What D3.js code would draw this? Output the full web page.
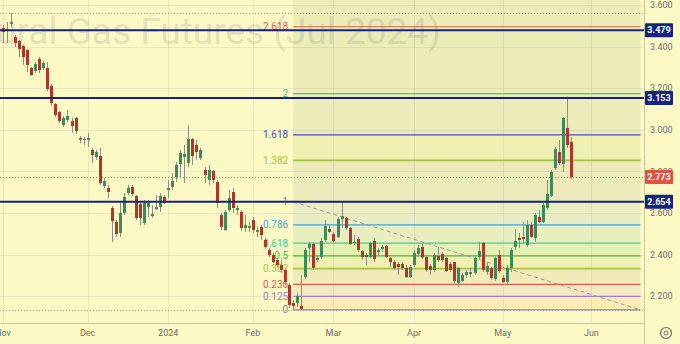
<!DOCTYPE html>
<html>
<head>
<meta charset="utf-8">
<script src="https://cdn.jsdelivr.net/npm/d3@7"></script>
<style>
  body { margin: 0; background: #fdf9c4; }
  svg { display: block; font-family: Roboto, "Liberation Sans", sans-serif; }
</style>
</head>
<body>
<svg id="chart" width="680" height="344"></svg>
<script>
// daily bars, Nov 2023 .. late May 2024 (bar index = trading day)
const opens = [3.489,3.475,3.509,3.446,3.427,3.403,3.384,3.297,3.283,3.340,3.297,3.297,3.211,3.124,3.086,3.023,3.047,3.042,3.057,2.960,
  2.951,2.951,2.903,2.869,2.874,2.730,2.720,2.624,2.557,2.504,2.600,2.696,2.725,2.682,2.643,2.552,2.629,2.585,2.619,2.629,
  2.677,2.711,2.725,2.773,2.835,2.869,2.840,2.956,2.927,2.864,2.807,2.759,2.802,2.749,2.590,2.518,2.614,2.701,2.614,2.605,
  2.528,2.528,2.566,2.509,2.533,2.470,2.422,2.398,2.374,2.350,2.326,2.254,2.167,2.167,2.153,2.292,2.432,2.451,2.374,2.388,
  2.470,2.523,2.499,2.485,2.571,2.576,2.528,2.456,2.475,2.417,2.398,2.388,2.465,2.412,2.427,2.441,2.384,2.364,2.355,2.355,
  2.336,2.292,2.350,2.403,2.437,2.388,2.345,2.326,2.393,2.403,2.384,2.355,2.364,2.263,2.273,2.302,2.307,2.312,2.388,2.456,
  2.316,2.336,2.283,2.398,2.288,2.268,2.336,2.437,2.480,2.485,2.446,2.542,2.480,2.581,2.557,2.624,2.682,2.816,2.893,2.835,
  3.009,2.941];
const highs = [3.504,3.518,3.562,3.456,3.432,3.408,3.388,3.302,3.326,3.350,3.331,3.326,3.220,3.129,3.090,3.066,3.095,3.057,3.061,2.970,
  2.965,2.985,2.912,2.903,2.912,2.768,2.735,2.634,2.566,2.648,2.696,2.735,2.735,2.686,2.653,2.662,2.662,2.638,2.686,2.696,
  2.686,2.759,2.792,2.845,2.903,2.927,3.023,2.960,2.951,2.912,2.821,2.831,2.807,2.759,2.600,2.614,2.711,2.720,2.638,2.614,
  2.590,2.557,2.581,2.533,2.542,2.480,2.432,2.408,2.384,2.374,2.336,2.263,2.182,2.215,2.302,2.432,2.461,2.461,2.393,2.480,
  2.566,2.542,2.509,2.581,2.654,2.581,2.533,2.494,2.485,2.422,2.408,2.461,2.480,2.432,2.446,2.446,2.388,2.374,2.364,2.364,
  2.350,2.350,2.422,2.446,2.456,2.398,2.355,2.408,2.437,2.412,2.388,2.364,2.364,2.340,2.312,2.326,2.336,2.388,2.461,2.461,
  2.360,2.340,2.388,2.422,2.302,2.350,2.432,2.523,2.504,2.557,2.566,2.557,2.600,2.614,2.648,2.759,2.807,2.917,2.951,3.061,
  3.160,2.965];
const lows = [3.417,3.417,3.494,3.398,3.350,3.312,3.278,3.259,3.273,3.273,3.287,3.186,3.114,3.061,3.033,3.013,3.037,2.985,2.980,2.936,
  2.927,2.917,2.840,2.855,2.735,2.720,2.672,2.461,2.485,2.485,2.590,2.686,2.682,2.566,2.542,2.542,2.581,2.576,2.614,2.605,
  2.643,2.672,2.711,2.749,2.773,2.744,2.821,2.831,2.855,2.855,2.744,2.735,2.744,2.624,2.518,2.513,2.605,2.600,2.590,2.513,
  2.509,2.509,2.504,2.485,2.470,2.427,2.388,2.360,2.340,2.312,2.254,2.143,2.134,2.148,2.134,2.283,2.364,2.326,2.364,2.379,
  2.461,2.504,2.461,2.480,2.528,2.518,2.446,2.446,2.412,2.374,2.350,2.384,2.364,2.398,2.412,2.384,2.340,2.326,2.302,2.326,
  2.288,2.288,2.340,2.388,2.379,2.316,2.302,2.316,2.364,2.364,2.316,2.316,2.263,2.244,2.268,2.288,2.292,2.302,2.374,2.316,
  2.302,2.278,2.273,2.312,2.263,2.259,2.316,2.422,2.432,2.451,2.437,2.480,2.461,2.552,2.552,2.614,2.677,2.807,2.831,2.797,
  2.912,2.763];
const closes = [3.470,3.485,3.518,3.417,3.388,3.350,3.312,3.263,3.316,3.287,3.321,3.196,3.129,3.071,3.042,3.057,3.066,3.018,2.994,2.953,
  2.956,2.960,2.879,2.893,2.744,2.754,2.701,2.561,2.499,2.600,2.677,2.720,2.691,2.576,2.576,2.648,2.648,2.595,2.629,2.682,
  2.648,2.720,2.754,2.831,2.888,2.884,2.956,2.874,2.893,2.903,2.783,2.807,2.759,2.648,2.533,2.605,2.672,2.624,2.624,2.528,
  2.542,2.537,2.518,2.518,2.494,2.437,2.398,2.364,2.350,2.326,2.268,2.158,2.153,2.201,2.138,2.422,2.451,2.336,2.384,2.465,
  2.537,2.509,2.465,2.571,2.585,2.528,2.451,2.461,2.422,2.388,2.388,2.456,2.379,2.422,2.437,2.388,2.364,2.336,2.340,2.336,
  2.292,2.340,2.408,2.432,2.386,2.326,2.326,2.398,2.374,2.374,2.321,2.326,2.273,2.336,2.302,2.316,2.316,2.384,2.417,2.326,
  2.345,2.288,2.384,2.321,2.268,2.336,2.422,2.465,2.470,2.475,2.542,2.485,2.590,2.557,2.638,2.691,2.797,2.908,2.840,3.057,
  2.927,2.773];

const monthLabels = ['Nov', 'Dec', '2024', 'Feb', 'Mar', 'Apr', 'May', 'Jun'];
const monthBars = [0, 21, 41, 62, 82, 102, 124, 146];
const priceTicks = [2.2, 2.4, 2.6, 2.8, 3.0, 3.2, 3.4, 3.6];

const levelLines = [3.479, 3.153, 2.654];
const lastPrice = 2.773;
const rangeHigh = 3.562, rangeLow = 2.134;

const fibLevels = [0, 0.125, 0.236, 0.382, 0.5, 0.618, 0.786, 1, 1.382, 1.618, 2, 2.618];
const fibLow = 2.134, fibHigh = 2.654;
const fibBars = [72, 158.2];
const trendBars = [72, 158.2], trendPrices = [2.654, 2.134];

const title = 'Natural Gas Futures (Jul 2024)';

const width = 680, height = 344;
const paneRight = 644, paneBottom = 323;

// line / label colour of each level
const fibColor = {
  0: '#8a8c95', 0.125: '#9a80cc', 0.236: '#df5a4c', 0.382: '#a3c53b', 0.5: '#3dbf3d',
  0.618: '#3ccf95', 0.786: '#45a3da', 1: '#8a8c95', 1.382: '#a3c53b', 1.618: '#4b4bbd',
  2: '#3dc9a0', 2.618: '#df5f4e'
};
// tint of the band that starts at each level
const bandColor = {
  0: '#f29a3a', 0.125: '#c08aa0', 0.236: '#a49a70', 0.382: '#a3c53b', 0.5: '#5cbf4a',
  0.618: '#6ab89a', 0.786: '#7aa0b8', 1: '#8a8c80', 1.382: '#95c050', 1.618: '#8a9a80',
  2: '#8aa060', 2.618: '#8aa060'
};

const x = d3.scaleLinear().domain([0, 146]).range([3, 591.4]);
const y = d3.scaleLinear().domain([2.071, 3.624]).range([paneBottom, 0]);
const fibPrice = r => fibLow + r * (fibHigh - fibLow);
const px = v => Math.round(v) + 0.5;

const svg = d3.select('#chart');

svg.append('rect')
    .attr('width', width).attr('height', height)
    .attr('fill', '#fdf9c4');

const pane = svg.append('g');

// fib background bands
const x0 = x(fibBars[0]), x1 = x(fibBars[1]);
const bandEdges = fibLevels.map(fibPrice).concat([y.invert(0)]);
pane.append('g')
  .selectAll('rect')
  .data(fibLevels)
  .join('rect')
    .attr('x', x0)
    .attr('width', x1 - x0)
    .attr('y', (d, i) => y(bandEdges[i + 1]))
    .attr('height', (d, i) => y(bandEdges[i]) - y(bandEdges[i + 1]))
    .attr('fill', d => bandColor[d])
    .attr('fill-opacity', 0.14);

// grid
pane.append('g')
  .selectAll('line')
  .data(priceTicks)
  .join('line')
    .attr('x1', 0).attr('x2', paneRight)
    .attr('y1', d => px(y(d))).attr('y2', d => px(y(d)))
    .attr('stroke', '#a0a0a0').attr('stroke-opacity', 0.2);

pane.append('g')
  .selectAll('line')
  .data(monthBars)
  .join('line')
    .attr('x1', d => px(x(d))).attr('x2', d => px(x(d)))
    .attr('y1', 0).attr('y2', paneBottom)
    .attr('stroke', '#a0a0a0').attr('stroke-opacity', 0.2);

// watermark
pane.append('text')
    .attr('x', 441).attr('y', 44)
    .attr('text-anchor', 'end')
    .attr('font-size', 37)
    .attr('fill', '#787b86').attr('fill-opacity', 0.2)
    .text(title);

// fib lines + labels
const fib = pane.append('g');
fib.selectAll('line')
  .data(fibLevels)
  .join('line')
    .attr('x1', x0).attr('x2', x1)
    .attr('y1', d => y(fibPrice(d))).attr('y2', d => y(fibPrice(d)))
    .attr('stroke', d => fibColor[d])
    .attr('stroke-width', d => (d === 0.382 || d === 1.382) ? 1.8 : 1.2);

fib.selectAll('text')
  .data(fibLevels)
  .join('text')
    .attr('x', x0 - 5)
    .attr('y', d => y(fibPrice(d)))
    .attr('dy', '0.35em')
    .attr('text-anchor', 'end')
    .attr('font-size', 10)
    .attr('fill', d => fibColor[d])
    .text(d => d);

// high / low dotted lines
pane.append('g')
  .selectAll('line')
  .data([rangeHigh, rangeLow])
  .join('line')
    .attr('x1', 0).attr('x2', paneRight)
    .attr('y1', d => px(y(d))).attr('y2', d => px(y(d)))
    .attr('stroke', '#9a9a9a')
    .attr('stroke-dasharray', '1,2');

// dashed trend line
pane.append('line')
    .attr('x1', x(trendBars[0])).attr('y1', y(trendPrices[0]))
    .attr('x2', x(trendBars[1])).attr('y2', y(trendPrices[1]))
    .attr('stroke', '#9a9a9a')
    .attr('stroke-dasharray', '4,3');

// candles
const candles = pane.append('g')
  .selectAll('g')
  .data(d3.range(opens.length))
  .join('g');

candles.append('line')
    .attr('x1', i => px(x(i))).attr('x2', i => px(x(i)))
    .attr('y1', i => y(highs[i])).attr('y2', i => y(lows[i]))
    .attr('stroke', '#8e8e88');

candles.append('rect')
    .attr('x', i => Math.round(x(i)) - 1)
    .attr('width', 3)
    .attr('y', i => y(Math.max(opens[i], closes[i])))
    .attr('height', i => Math.max(1, Math.abs(y(opens[i]) - y(closes[i]))))
    .attr('fill', i => closes[i] >= opens[i] ? '#3d8a5a' : '#b0362b');

// last price line
pane.append('line')
    .attr('x1', 0).attr('x2', paneRight)
    .attr('y1', px(y(lastPrice))).attr('y2', px(y(lastPrice)))
    .attr('stroke', '#e5664f')
    .attr('stroke-dasharray', '1,2');

// horizontal levels
pane.append('g')
  .selectAll('line')
  .data(levelLines)
  .join('line')
    .attr('x1', 0).attr('x2', paneRight)
    .attr('y1', d => y(d)).attr('y2', d => y(d))
    .attr('stroke', '#15237f')
    .attr('stroke-width', 2);

// axes frame
svg.append('line')
    .attr('x1', px(paneRight)).attr('x2', px(paneRight))
    .attr('y1', 0).attr('y2', height)
    .attr('stroke', '#c9c6a4');
svg.append('line')
    .attr('x1', 0).attr('x2', paneRight)
    .attr('y1', px(paneBottom)).attr('y2', px(paneBottom))
    .attr('stroke', '#c9c6a4');

// price axis
svg.append('g')
  .selectAll('text')
  .data(priceTicks)
  .join('text')
    .attr('x', 650)
    .attr('y', d => y(d))
    .attr('dy', '0.35em')
    .attr('font-size', 9)
    .attr('fill', '#6b6d75')
    .text(d => d3.format('.3f')(d));

const tags = levelLines.map(v => ({v, fill: '#15237f'}))
  .concat([{v: lastPrice, fill: '#e2533f'}]);

const tag = svg.append('g')
  .selectAll('g')
  .data(tags)
  .join('g')
    .attr('transform', d => `translate(645,${y(d.v)})`);

tag.append('rect')
    .attr('y', -7).attr('width', 28).attr('height', 14)
    .attr('rx', 1)
    .attr('fill', d => d.fill);

tag.append('text')
    .attr('x', 14)
    .attr('dy', '0.35em')
    .attr('text-anchor', 'middle')
    .attr('font-size', 9)
    .attr('font-weight', 'bold')
    .attr('fill', '#fff')
    .text(d => d3.format('.3f')(d.v));

// time axis
svg.append('g')
  .selectAll('text')
  .data(monthLabels)
  .join('text')
    .attr('x', (d, i) => x(monthBars[i]))
    .attr('y', 333)
    .attr('dy', '0.35em')
    .attr('text-anchor', 'middle')
    .attr('font-size', 9)
    .attr('fill', '#6b6d75')
    .text(d => d);

// settings gear
const gear = svg.append('g')
    .attr('transform', 'translate(666,333)')
    .attr('fill', 'none')
    .attr('stroke', '#6b6d75');
gear.append('circle').attr('r', 5.5).attr('stroke-width', 1.2);
gear.append('circle').attr('r', 2);
</script>
</body>
</html>
